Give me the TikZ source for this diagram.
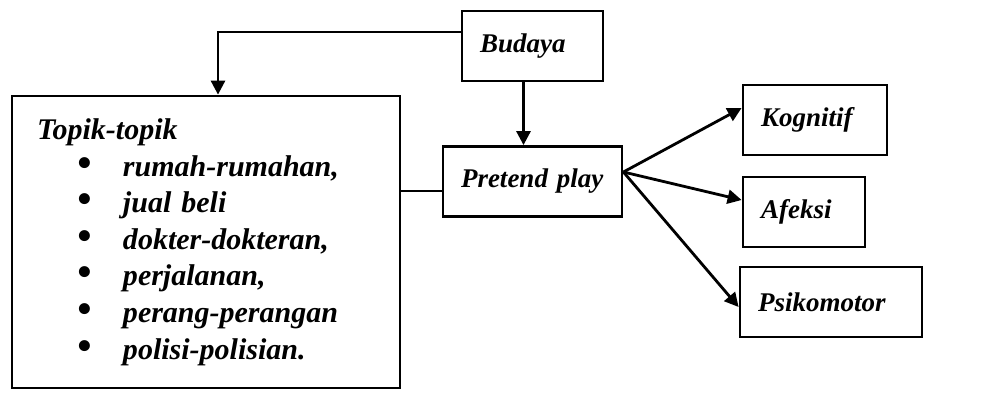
\documentclass[tikz,border=0pt]{standalone}
\usepackage{fontspec}
\usepackage{graphicx}
\setmainfont{Liberation Serif}
\usetikzlibrary{positioning, arrows.meta}

\newcommand{\topicitem}[1]{\makebox[43pt][l]{\hspace*{20.5pt}\scalebox{1.35}{\textbullet}}#1}

\begin{document}
\begin{tikzpicture}[
    x=0.5pt, y=-0.5pt,
    box/.style={rectangle, draw=black, line width=1.4pt, minimum height=35pt, inner xsep=9pt, align=left, font=\fontsize{13.5}{16}\selectfont\bfseries\itshape},
    topicbox/.style={rectangle, draw=black, line width=1.4pt, minimum height=146pt, inner xsep=12.5pt, text width=169pt, align=left, font=\fontsize{15}{18.3}\selectfont\bfseries\itshape},
    arrow/.style={-{Triangle[length=7pt, width=7pt]}, line width=1.4pt},
    link/.style={line width=1.4pt}
]
\useasboundingbox (0,0) rectangle (984,393);

% Topics
\node[topicbox] (topik) at (206,242) {Topik-topik\\
    \topicitem{rumah-rumahan,}\\
    \topicitem{jual beli}\\
    \topicitem{dokter-dokteran,}\\
    \topicitem{perjalanan,}\\
    \topicitem{perang-perangan}\\
    \topicitem{polisi-polisian.}};

% Culture and play
\node[box, text width=52.5pt] (budaya) at (532.5,46) {Budaya};
\node[box, text width=71.5pt] (pretend) at (532.5,181.5) {Pretend play};

% Outcomes
\node[box, text width=54pt] (kognitif) at (815,120) {Kognitif};
\node[box, text width=43pt] (afeksi) at (804,212) {Afeksi};
\node[box, text width=73pt] (psikomotor) at (831,302) {Psikomotor};

% Budaya to topics
\draw[arrow] ([yshift=7pt]budaya.west) -| ([xshift=6pt]topik.north);

% Budaya to pretend play
\draw[arrow] ([xshift=-4.5pt]budaya.south) -- ([xshift=-4.5pt]pretend.north);

% Topics to pretend play
\coordinate (join) at ([yshift=-4.75pt]pretend.west);
\draw[link] (join) -- (join -| topik.east);

% Pretend play to outcomes
\coordinate (fan) at ([yshift=4.75pt]pretend.east);
\foreach \target/\dy in {kognitif/6pt, afeksi/6pt, psikomotor/-2.5pt}
{
    \draw[arrow] (fan) -- ([yshift=\dy]\target.west);
}

\end{tikzpicture}
\end{document}
